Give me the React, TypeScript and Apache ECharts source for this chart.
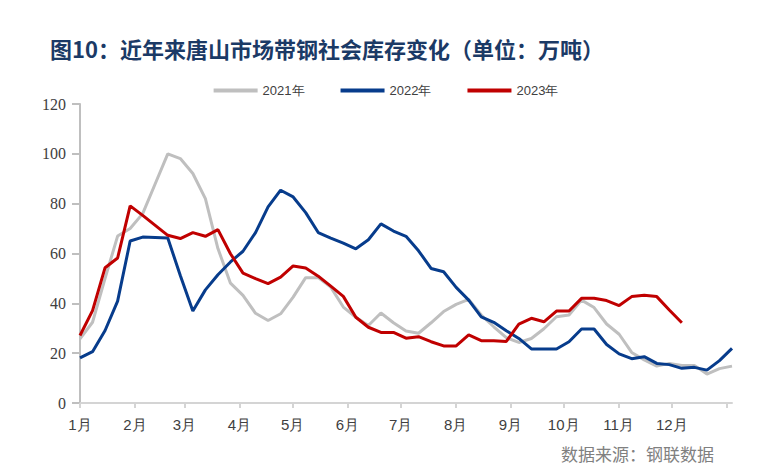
import React, { useEffect, useRef } from 'react';
import * as echarts from 'echarts';

// Weekly observations (53 weeks across the year)
const weeks: string[] = Array.from({ length: 53 }, (_, i) => `第${i + 1}周`);
const monthLabels = ['1月', '2月', '3月', '4月', '5月', '6月', '7月', '8月', '9月', '10月', '11月', '12月'];
const seriesNames = ['2021年', '2022年', '2023年'];

const data2021 = [
  25.7, 32.4, 50.0, 67.0, 70.0, 76.0, 88.0, 100.0, 98.1, 92.1,
  82.0, 62.0, 48.1, 43.2, 36.0, 33.1, 35.8, 42.5, 50.3, 50.3,
  46.5, 38.5, 34.4, 31.1, 36.1, 32.2, 28.9, 28.0, 32.2, 36.7,
  39.6, 41.6, 35.3, 30.6, 26.2, 24.3, 25.9, 29.8, 34.6, 35.3,
  41.3, 38.3, 31.7, 27.6, 20.3, 17.3, 14.8, 15.9, 15.1, 15.1,
  11.6, 13.8, 14.8,
];
const data2022 = [
  18.1, 20.6, 29.1, 40.9, 65.0, 66.6, 66.4, 66.2, 51.2, 36.9,
  45.4, 51.5, 56.6, 60.9, 68.4, 78.7, 85.4, 82.7, 76.4, 68.4,
  66.2, 64.2, 61.9, 65.5, 71.9, 69.0, 66.9, 61.1, 54.0, 52.7,
  46.4, 41.3, 34.6, 32.4, 29.0, 25.9, 21.7, 21.7, 21.7, 24.6,
  29.7, 29.7, 23.5, 19.7, 17.8, 18.6, 15.9, 15.4, 13.9, 14.3,
  13.2, 17.0, 21.9,
];
const data2023 = [
  27.1, 37.1, 54.3, 58.2, 79.1, 75.3, 71.3, 67.3, 66.0, 68.4,
  66.9, 69.6, 59.9, 52.1, 49.9, 47.9, 50.5, 55.0, 54.2, 50.9,
  46.9, 42.8, 34.4, 30.4, 28.3, 28.3, 26.0, 26.6, 24.6, 22.9,
  22.9, 27.3, 25.0, 25.0, 24.7, 31.7, 34.0, 32.6, 36.9, 36.9,
  42.0, 42.0, 41.1, 39.1, 42.7, 43.2, 42.7, 37.3, 32.2,
];
const yTicks = { min: 0, max: 120, interval: 20 };

const colors = ['#BFBFBF', '#073C8C', '#C00000'];

export default function App() {
  const ref = useRef<HTMLDivElement>(null);
  useEffect(() => {
    if (!ref.current) return;
    const chart = echarts.init(ref.current, null, { renderer: 'svg' });
    const DAY = 24 * 3600 * 1000;
    chart.setOption({
      animation: false,
      backgroundColor: '#ffffff',
      color: colors,
      title: {
        text: '图10：近年来唐山市场带钢社会库存变化（单位：万吨）',
        left: 45,
        top: 32,
        textStyle: {
          fontFamily: 'Noto Sans CJK SC',
          fontSize: 22,
          fontWeight: 'bold',
          color: '#1B3A66',
        },
      },
      legend: {
        data: seriesNames,
        top: 79,
        left: 'center',
        icon: 'rect',
        itemWidth: 44,
        itemHeight: 4,
        itemGap: 36,
        textStyle: { fontFamily: 'Liberation Sans', fontSize: 13, color: '#404040' },
      },
      grid: { left: 80, right: 40, top: 104, bottom: 71, containLabel: false, outerBoundsMode: 'none' },
      xAxis: [
        {
          type: 'category',
          data: weeks,
          boundaryGap: false,
          position: 'bottom',
          axisLine: { show: true, lineStyle: { color: '#D4D4D4', width: 2 } },
          axisTick: { show: false },
          axisLabel: { show: false },
          splitLine: { show: false },
        },
        {
          type: 'time',
          position: 'bottom',
          min: '2021-01-01',
          max: '2022-01-04',
          splitNumber: 12,
          minInterval: 28 * DAY,
          maxInterval: 31 * DAY,
          axisLine: { show: false },
          axisTick: { show: true, length: 5, lineStyle: { color: '#D4D4D4', width: 2 } },
          minorTick: { show: false },
          splitLine: { show: false },
          axisLabel: {
            show: true,
            margin: 14,
            fontFamily: 'Liberation Sans',
            fontSize: 15,
            color: '#404040',
            showMaxLabel: false,
            formatter: (value: number) => {
              const d = new Date(value);
              return d.getFullYear() === 2021 ? monthLabels[d.getMonth()] : '';
            },
          },
        },
      ],
      yAxis: {
        type: 'value',
        min: yTicks.min,
        max: yTicks.max,
        interval: yTicks.interval,
        axisLine: { show: true, lineStyle: { color: '#BFBFBF', width: 2 } },
        axisTick: { show: true, length: 8, lineStyle: { color: '#BFBFBF', width: 2 } },
        splitLine: { show: false },
        axisLabel: {
          margin: 14,
          fontFamily: 'Liberation Serif',
          fontSize: 16,
          color: '#404040',
        },
      },
      graphic: [
        {
          type: 'text',
          left: 561,
          top: 445,
          style: {
            text: '数据来源：钢联数据',
            font: '17px "Noto Sans CJK SC"',
            fill: '#808080',
          },
        },
      ],
      series: [
        { name: seriesNames[0], data: data2021 },
        { name: seriesNames[1], data: data2022 },
        { name: seriesNames[2], data: data2023 },
      ].map((s, i) => ({
        ...s,
        type: 'line',
        xAxisIndex: 0,
        showSymbol: false,
        symbol: 'none',
        lineStyle: { width: 3, color: colors[i] },
        itemStyle: { color: colors[i] },
        z: 2 + i,
      })),
    });
    return () => chart.dispose();
  }, []);
  return <div ref={ref} style={{ width: 772, height: 474, margin: -8 }} />;
}
